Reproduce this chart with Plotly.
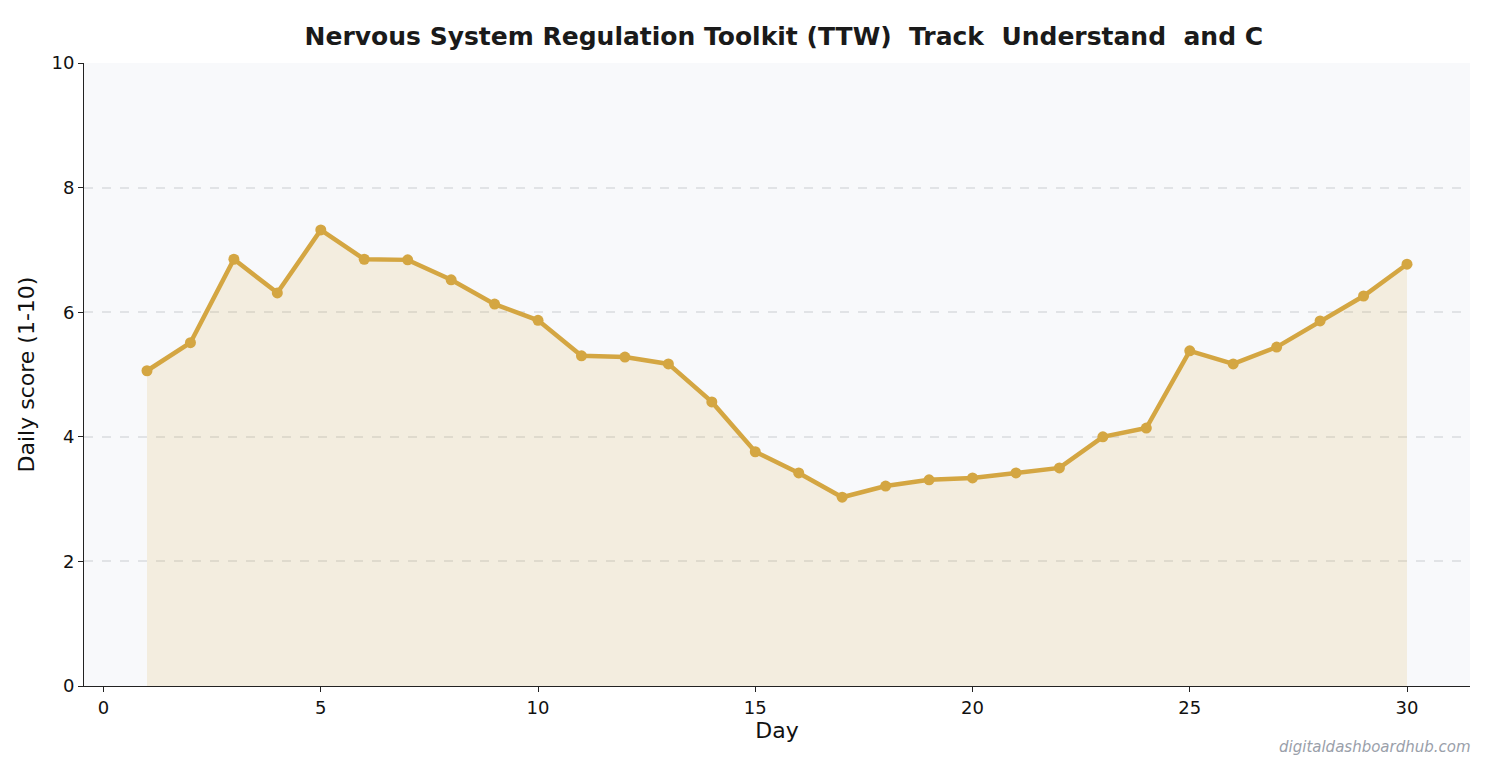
import plotly.graph_objects as go

days = list(range(1, 31))
scores = [5.06, 5.51, 6.85, 6.31, 7.32, 6.85, 6.84, 6.52, 6.13, 5.87,
          5.30, 5.28, 5.17, 4.56, 3.76, 3.42, 3.03, 3.21, 3.31, 3.34,
          3.42, 3.50, 4.00, 4.14, 5.38, 5.17, 5.44, 5.86, 6.26, 6.77]

gold = "#D4A642"

fig = go.Figure()
fig.add_trace(go.Scatter(
    x=days, y=scores, mode="lines+markers", fill="tozeroy",
    fillcolor="rgba(212,167,66,0.15)",
    line=dict(color=gold, width=4.5), marker=dict(color=gold, size=11),
    showlegend=False))

fig.update_layout(
    width=1492, height=783,
    paper_bgcolor="white", plot_bgcolor="#F8F9FB",
    font=dict(family="DejaVu Sans", size=18, color="#111"),
    title=dict(text="<b>Nervous System Regulation Toolkit (TTW)  Track  Understand  and C</b>",
               x=0.52, xanchor="center", y=0.975, font=dict(size=25, color="#1a1a1a")),
    margin=dict(l=76, r=30, t=55, b=105),
    annotations=[dict(text="<i>digitaldashboardhub.com</i>", xref="paper", yref="paper",
                      x=1.002, y=-0.115, xanchor="right", showarrow=False,
                      font=dict(size=15, color="#9aa0aa"))],
)
fig.update_xaxes(range=[-0.45, 31.45], tickvals=[0, 5, 10, 15, 20, 25, 30],
                 title=dict(text="Day", standoff=6), showgrid=False, zeroline=False,
                 showline=True, linecolor="#222", ticks="outside", tickcolor="#222")
fig.update_yaxes(range=[0, 10], dtick=2, title=dict(text="Daily score (1-10)", standoff=10),
                 showgrid=True, gridcolor="#e1e3e6", gridwidth=1.5, griddash="dash", zeroline=False,
                 showline=True, linecolor="#222", ticks="outside", tickcolor="#222")

fig.write_html("out.html")
